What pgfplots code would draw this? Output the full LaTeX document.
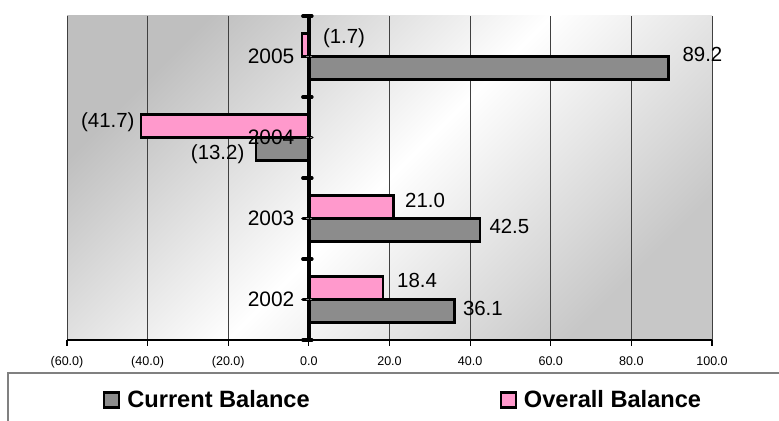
\documentclass[border=0pt]{standalone}
\usepackage{pgfplots}
\pgfplotsset{compat=1.18}
\usepackage{pgfplotstable}
\usepackage{fontspec}
\setmainfont{Liberation Sans}
\definecolor{curgray}{HTML}{8C8C8C}
\definecolor{ovpink}{HTML}{FF99CC}
\definecolor{gridc}{HTML}{404040}

\pgfplotstableread{
idx value label dx dy
0 36.1 36.1 28.5 2.5
1 42.5 42.5 29.2 4
2 -13.2 (13.2) -38 -5
3 89.2 89.2 34 14
}\currenttab

\pgfplotstableread{
idx value label dx dy
0 18.4 18.4 34 7.5
1 21.0 21.0 31.5 7
2 -41.7 (41.7) -33 4
3 -1.7 (1.7) 42 6.5
}\overalltab

\pgfplotsset{
 layers/mylayers/.define layer set={
   axis background,axis grid,pre main,main,axis ticks,axis lines,axis tick labels,axis descriptions,axis foreground
 }{
  grid style={/pgfplots/on layer=axis grid},
  tick style={/pgfplots/on layer=axis ticks},
  axis line style={/pgfplots/on layer=axis lines},
  label style={/pgfplots/on layer=axis descriptions},
  legend style={/pgfplots/on layer=axis descriptions},
  ticklabel style={/pgfplots/on layer=axis tick labels},
  axis background@ style={/pgfplots/on layer=axis background},
 },
}

\begin{document}
\begin{tikzpicture}[line width=0.8pt]
\begin{axis}[
 set layers=mylayers,
 at={(67bp,81bp)}, anchor=south west,
 scale only axis, width=645bp, height=324bp,
 xbar, bar width=23bp,
 xmin=-60, xmax=100, ymin=-0.5, ymax=3.5,
 xtick={-60,-40,...,100},
 xticklabels={(60.0),(40.0),(20.0),0.0,20.0,40.0,60.0,80.0,100.0},
 ytick={0,1,2,3}, yticklabels={2002,2003,2004,2005},
 axis x line=bottom, axis y line=center,
 x axis line style={black, line width=1.2pt, -},
 y axis line style={black, -},
 xmajorgrids=true, ymajorgrids=false,
 major grid style={gridc, line width=0.7pt},
 extra x ticks={-60}, extra x tick labels={},
 extra x tick style={grid style={black, line width=1.2pt}},
 xtick align=outside, ytick align=center,
 major tick length=6bp,
 x tick style={black, line width=1.2pt},
 xticklabel style={font=\fontsize{12.6}{14}\selectfont, yshift=-7bp},
 yticklabel style={font=\fontsize{21}{24}\selectfont, xshift=-8bp},
 axis background/.style={shade, top color=gray!50, bottom color=gray!44, middle color=white, shading angle=45},
 clip=false,
 nodes near coords={\pgfplotspointmeta},
 point meta=explicit symbolic,
 visualization depends on={\thisrow{dx}\as\dx},
 visualization depends on={\thisrow{dy}\as\dy},
 every node near coord/.append style={font=\fontsize{20.5}{24}\selectfont, inner sep=0pt, text=black, anchor=center, xshift=\dx bp, yshift=\dy bp},
 legend columns=2,
 legend style={at={(0.0558,-0.1852)}, anchor=west, draw=none, fill=none, inner sep=0pt,
   font=\bfseries\fontsize{23.7}{28}\selectfont,
   cells={anchor=west}, nodes={inner sep=0pt},
   /tikz/every odd column/.append style={column sep=7bp},
   /tikz/every even column/.append style={column sep=190bp}},
]
\addplot[fill=curgray, draw=black, line width=2.2pt, bar shift=-11.5bp,
  legend image code/.code={\draw[fill=curgray, draw=black, line width=2.2pt] (0bp,-7.5bp) rectangle (15bp,7.5bp);}]
  table[x=value, y=idx, meta=label] {\currenttab};
\addlegendentry{Current Balance}
\addplot[fill=ovpink, draw=black, line width=2.2pt, bar shift=11.5bp,
  legend image code/.code={\draw[fill=ovpink, draw=black, line width=2.2pt] (0bp,-7.5bp) rectangle (15bp,7.5bp);}]
  table[x=value, y=idx, meta=label] {\overalltab};
\addlegendentry{Overall Balance}
% thick category axis line with its tick marks
\draw[black, line width=4pt] (axis cs:0,-0.5) -- (axis cs:0,3.5);
\pgfplotsinvokeforeach{-0.5,0,0.5,1,1.5,2,2.5,3,3.5}{
  \draw[black, line width=3.5pt, line cap=round] ([xshift=-6bp]axis cs:0,#1) -- ([xshift=3bp]axis cs:0,#1);
}
\end{axis}
\draw[gray, line width=1.3pt] (8bp,-20bp) -- (8bp,48bp) -- (800bp,48bp);
\pgfresetboundingbox
\path[use as bounding box] (0bp,0bp) rectangle (779bp,421bp);
\end{tikzpicture}
\end{document}
